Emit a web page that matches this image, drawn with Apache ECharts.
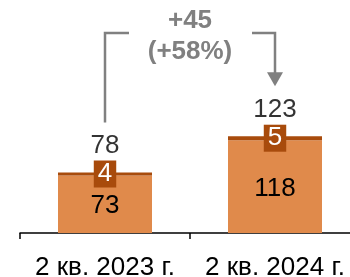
<!DOCTYPE html>
<html>
<head>
<meta charset="utf-8">
<script src="https://cdn.jsdelivr.net/npm/echarts@6/dist/echarts.min.js"></script>
<style>
  html, body { margin: 0; padding: 0; background: #fff; }
  #chart { width: 350px; height: 277px; }
</style>
</head>
<body>
<div id="chart"></div>
<script>
var categories = ['2 кв. 2023 г.', '2 кв. 2024 г.'];
var baseValues = [73, 118];
var topValues = [4, 5];
var totals = [78, 123];

window.addEventListener('load', function () {
  var myChart = echarts.init(document.getElementById('chart'));
  var font = 'Liberation Sans, Arial, sans-serif';

  var option = {
    animation: false,
    grid: { left: 20, right: -10, top: 115, bottom: 44, outerBoundsMode: 'none', containLabel: false },
    xAxis: {
      type: 'category',
      data: categories,
      axisLine: { lineStyle: { color: '#000', width: 1.5 } },
      axisTick: { show: true, length: 6, lineStyle: { color: '#000', width: 1.5 } },
      axisLabel: { color: '#000', fontSize: 26, fontFamily: font, margin: 22, interval: 0 }
    },
    yAxis: {
      type: 'value', min: 0, max: 150, show: false,
      splitLine: { show: false }
    },
    series: [
      {
        type: 'bar', stack: 'a', data: baseValues, barWidth: 94,
        itemStyle: { color: '#E08A4B' },
        label: { show: true, position: 'inside', offset: [0, 2], color: '#000', fontSize: 26, fontFamily: font }
      },
      {
        type: 'bar', stack: 'a', data: topValues, barWidth: 94,
        itemStyle: { color: '#A84B0C' },
        label: {
          show: true, position: 'inside', color: '#fff', fontSize: 26, fontFamily: font,
          backgroundColor: '#A84B0C', padding: [1, 4, 0, 4], lineHeight: 26
        }
      },
      {
        type: 'scatter', data: totals, symbolSize: 0,
        label: {
          show: true, position: 'top', distance: 13, color: '#000', fontSize: 26, fontFamily: font
        }
      }
    ]
  };
  myChart.setOption(option);

  // bracket with arrow between the two totals
  var diff = totals[1] - totals[0];
  var pct = Math.round(diff / totals[0] * 100);
  var p0 = myChart.convertToPixel({ seriesIndex: 0 }, [0, totals[0] - 1]);
  var p1 = myChart.convertToPixel({ seriesIndex: 0 }, [1, totals[1]]);
  var topY = 33;
  var gap = 50;
  var midX = (p0[0] + p1[0]) / 2;
  var gray = '#808080';

  myChart.setOption({
    graphic: [
      {
        type: 'polyline',
        shape: { points: [[p0[0], p0[1] - gap], [p0[0], topY], [p0[0] + 24, topY]] },
        style: { stroke: gray, lineWidth: 2.5, fill: null }
      },
      {
        type: 'polyline',
        shape: { points: [[p1[0] - 23, topY], [p1[0], topY], [p1[0], p1[1] - gap - 12]] },
        style: { stroke: gray, lineWidth: 2.5, fill: null }
      },
      {
        type: 'polygon',
        shape: { points: [[p1[0] - 8, p1[1] - gap - 14], [p1[0] + 8, p1[1] - gap - 14], [p1[0], p1[1] - gap]] },
        style: { fill: gray }
      },
      {
        type: 'text',
        x: midX, y: 21,
        style: {
          text: '+' + diff, fill: gray, font: 'bold 26px ' + font,
          textAlign: 'center', textVerticalAlign: 'middle'
        }
      },
      {
        type: 'text',
        x: midX, y: 52,
        style: {
          text: '(+' + pct + '%)', fill: gray, font: 'bold 26px ' + font,
          textAlign: 'center', textVerticalAlign: 'middle'
        }
      }
    ]
  });
});
</script>
</body>
</html>
